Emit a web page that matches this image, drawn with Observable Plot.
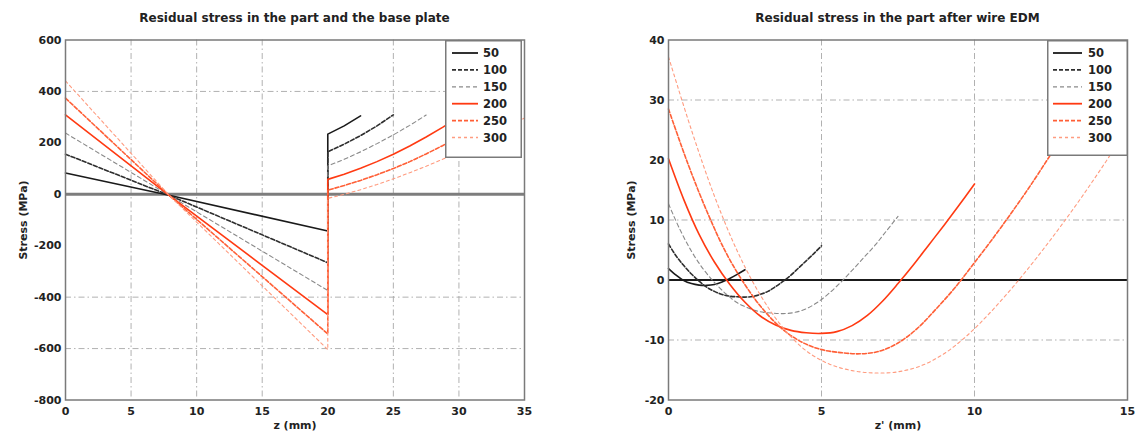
<!DOCTYPE html>
<html>
<head>
<meta charset="utf-8">
<script src="https://cdn.jsdelivr.net/npm/d3@7"></script>
<script src="https://cdn.jsdelivr.net/npm/@observablehq/plot@0.6"></script>
<style>
  body { margin: 0; background: #fff; }
  #page { position: relative; width: 1135px; height: 434px; overflow: hidden;
          font-family: "DejaVu Sans", "Liberation Sans", Arial, sans-serif; color: #222; }
  .panel { position: absolute; top: 0; }
  .title { position: absolute; top: 11px; font-weight: bold; font-size: 12px; line-height: 14px;
           white-space: nowrap; transform: translateX(-50%); color: #222; }
  .legend { position: absolute; }
</style>
</head>
<body>
<div id="page"></div>
<script>
// Series labels (layer thickness) and their styles
const series = ["50", "100", "150", "200", "250", "300"];
const colors = ["#1a1a1a", "#2e2e2e", "#8a8a8a", "#ff3a12", "#ff5f36", "#ff9c80"];
const dashes = [null, "4,2", "4,3", null, "4,2", "3,3"];
const widths = [1.6, 1.6, 1.1, 1.6, 1.6, 1.1];

// Residual stress in the part (z 0..20) and the base plate (z >= 20), [z mm, MPa]
const plate50  = [[0, 83], [7.9, -4], [20, -143], [20, 234], [21.25, 266], [22.5, 305]];
const plate100 = [[0, 156], [7.9, -4], [20, -266], [20, 165], [21.25, 195], [22.5, 228], [23.75, 266], [25, 309]];
const plate150 = [[0, 238], [7.9, -4], [20, -374], [20, 110], [21.25, 136], [22.5, 165], [23.75, 197], [25, 231], [26.25, 268], [27.5, 308]];
const plate200 = [[0, 309], [7.9, -4], [20, -468], [20, 58], [21.25, 78], [22.5, 101], [23.75, 127], [25, 156], [26.25, 188], [27.5, 223], [28.75, 260], [30, 300]];
const plate250 = [[0, 374], [7.9, -4], [20, -543], [20, 16], [21.25, 34], [22.5, 54], [23.75, 76], [25, 100], [26.25, 127], [27.5, 157], [28.75, 189], [30, 224], [31.25, 261], [32.5, 300]];
const plate300 = [[0, 441], [7.9, -4], [20, -604], [20, -16], [21.25, 0], [22.5, 18], [23.75, 38], [25, 60], [26.25, 84], [27.5, 109], [28.75, 136], [30, 165], [31.25, 196], [32.5, 229], [33.75, 263], [35, 297]];

// Residual stress in the part after wire EDM, [z' mm, MPa]
const edm50  = [[0, 1.9], [0.25, 0.8], [0.5, -0.1], [0.75, -0.6], [1, -0.85], [1.25, -0.9], [1.5, -0.75], [1.75, -0.35], [2, 0.25], [2.25, 0.95], [2.5, 1.7]];
const edm100 = [[0, 6.0], [0.25, 4.0], [0.5, 2.4], [0.75, 1.0], [1, -0.2], [1.25, -1.2], [1.5, -1.9], [1.75, -2.4], [2, -2.7], [2.25, -2.8], [2.5, -2.85], [2.75, -2.75], [3, -2.4], [3.25, -1.9], [3.5, -1.1], [3.75, -0.2], [4, 0.8], [4.25, 2.0], [4.5, 3.2], [4.75, 4.4], [5, 5.7]];
const edm150 = [[0, 12.7], [0.375, 8.4], [0.75, 4.8], [1.125, 1.9], [1.5, -0.4], [1.875, -2.3], [2.25, -3.8], [2.625, -4.7], [3, -5.3], [3.375, -5.5], [3.75, -5.6], [4.125, -5.4], [4.5, -4.8], [4.875, -3.7], [5.25, -2.2], [5.625, -0.4], [6, 1.6], [6.375, 3.7], [6.75, 5.8], [7.125, 8.2], [7.5, 10.6]];
const edm200 = [[0, 20.2], [0.5, 13.4], [1, 7.6], [1.5, 3.0], [2, -0.7], [2.5, -3.7], [3, -6.0], [3.5, -7.5], [4, -8.4], [4.5, -8.8], [5, -8.9], [5.5, -8.6], [6, -7.6], [6.5, -5.9], [7, -3.5], [7.5, -0.6], [8, 2.5], [8.5, 5.8], [9, 9.1], [9.5, 12.5], [10, 16.0]];
const edm250 = [[0, 28.5], [0.625, 19.5], [1.25, 11.5], [1.875, 4.6], [2.5, -0.8], [3.125, -5.1], [3.75, -8.3], [4.375, -10.4], [5, -11.6], [5.625, -12.1], [6.25, -12.3], [6.875, -11.9], [7.5, -10.5], [8.125, -8.1], [8.75, -4.8], [9.375, -1.2], [10, 2.9], [10.625, 7.1], [11.25, 11.5], [11.875, 16.1], [12.5, 21.0]];
const edm300 = [[0, 37.2], [0.75, 25.0], [1.5, 14.0], [2.25, 4.8], [3, -2.5], [3.75, -8.0], [4.5, -11.8], [5.25, -14.0], [6, -15.1], [6.75, -15.5], [7.5, -15.3], [8.25, -14.3], [9, -12.3], [9.75, -9.3], [10.5, -5.5], [11.25, -1.2], [12, 3.5], [12.75, 8.5], [13.5, 13.8], [14.25, 19.4], [15, 25.2]];

// Axis ticks and visible grid lines
const xTicksPlate = [0, 5, 10, 15, 20, 25, 30, 35];
const yTicksPlate = [600, 400, 200, 0, -200, -400, -600, -800];
const xGridPlate = [5, 10, 15, 25, 30];
const yGridPlate = [400, -400, -600];
const xTicksEdm = [0, 5, 10, 15];
const yTicksEdm = [40, 30, 20, 10, 0, -10, -20];
const xGridEdm = [5, 10];
const yGridEdm = [30, 10, -10];

const plateSets = [plate50, plate100, plate150, plate200, plate250, plate300];
const edmSets = [edm50, edm100, edm150, edm200, edm250, edm300];

const page = document.getElementById("page");
const font = "'DejaVu Sans', 'Liberation Sans', Arial, sans-serif";

function seriesMarks(sets, curve) {
  return sets.map((pts, i) => Plot.line(pts, {
    x: d => d[0], y: d => d[1], curve,
    stroke: colors[i], strokeWidth: widths[i],
    strokeDasharray: dashes[i] ?? undefined
  }));
}

function panel({left, width, marginLeft, marginRight, xDomain, yDomain, xTicks, yTicks,
                xGrid, yGrid, xLabel, yLabelOffset, zeroStroke, zeroWidth, sets, curve, title}) {
  const div = document.createElement("div");
  div.className = "panel";
  div.style.left = left + "px";
  const chart = Plot.plot({
    width, height: 434,
    marginLeft, marginRight, marginTop: 39.5, marginBottom: 34.5,
    style: {fontFamily: font, fontSize: "11px", fontWeight: "bold", color: "#222",
            background: "transparent", overflow: "visible"},
    x: {domain: xDomain},
    y: {domain: yDomain},
    marks: [
      Plot.ruleX(xGrid, {stroke: "#a8a8a8", strokeWidth: 0.9, strokeDasharray: "6,3,1.5,3"}),
      Plot.ruleY(yGrid, {stroke: "#a8a8a8", strokeWidth: 0.9, strokeDasharray: "6,3,1.5,3"}),
      Plot.ruleY([0], {stroke: zeroStroke, strokeWidth: zeroWidth}),
      ...seriesMarks(sets, curve),
      Plot.frame({stroke: "#7a7a7a", strokeWidth: 1.5}),
      Plot.axisX(xTicks, {tickSize: 0, tickPadding: 7, tickFormat: d => String(d),
        label: xLabel, labelAnchor: "center", labelArrow: "none", labelOffset: 29}),
      Plot.axisY(yTicks, {tickSize: 0, tickPadding: 4, tickFormat: d => String(d),
        label: "Stress (MPa)", labelAnchor: "center", labelArrow: "none", labelOffset: yLabelOffset})
    ]
  });
  div.appendChild(chart);
  page.appendChild(div);

  const t = document.createElement("div");
  t.className = "title";
  t.textContent = title;
  t.style.left = (left + marginLeft + (width - marginLeft - marginRight) / 2) + "px";
  page.appendChild(t);
}

function legend({left, top, width, height, lineX0, lineX1, textX}) {
  const svg = d3.select(page).append("svg")
    .attr("class", "legend")
    .attr("width", width).attr("height", height)
    .style("left", left + "px").style("top", top + "px");
  svg.append("rect").attr("x", 0.75).attr("y", 0.75)
    .attr("width", width - 1.5).attr("height", height - 1.5)
    .attr("fill", "#fff").attr("stroke", "#7a7a7a").attr("stroke-width", 1.5);
  const row = svg.selectAll("g").data(series).join("g")
    .attr("transform", (d, i) => `translate(0, ${13 + i * 16.9})`);
  row.append("line").attr("x1", lineX0).attr("x2", lineX1)
    .attr("stroke", (d, i) => colors[i])
    .attr("stroke-width", (d, i) => widths[i] + 0.2)
    .attr("stroke-dasharray", (d, i) => dashes[i]);
  row.append("text").attr("x", textX).attr("dy", "0.36em")
    .attr("font-family", font)
    .attr("font-size", 11.5).attr("font-weight", "bold").attr("fill", "#222")
    .text(d => d);
}

panel({
  left: 0, width: 567, marginLeft: 65, marginRight: 43,
  xDomain: [0, 35], yDomain: [-800, 600], xTicks: xTicksPlate, yTicks: yTicksPlate,
  xGrid: xGridPlate, yGrid: yGridPlate, xLabel: "z (mm)", yLabelOffset: 46,
  zeroStroke: "#7d7d7d", zeroWidth: 3, sets: plateSets, curve: "linear",
  title: "Residual stress in the part and the base plate"
});

panel({
  left: 580, width: 555, marginLeft: 88, marginRight: 8,
  xDomain: [0, 15], yDomain: [-20, 40], xTicks: xTicksEdm, yTicks: yTicksEdm,
  xGrid: xGridEdm, yGrid: yGridEdm, xLabel: "z' (mm)", yLabelOffset: 41,
  zeroStroke: "#1a1a1a", zeroWidth: 2, sets: edmSets, curve: "catmull-rom",
  title: "Residual stress in the part after wire EDM"
});

legend({left: 445, top: 40, width: 77, height: 118, lineX0: 7, lineX1: 33, textX: 38});
legend({left: 1047, top: 40, width: 81, height: 116, lineX0: 6, lineX1: 35, textX: 41});
</script>
</body>
</html>
